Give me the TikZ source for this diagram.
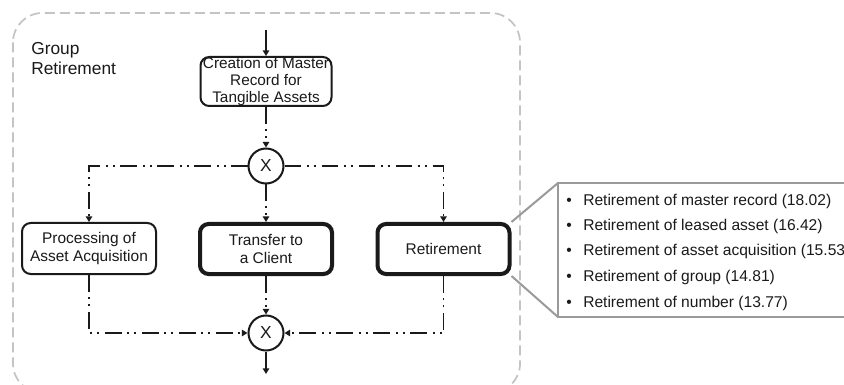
\documentclass[tikz,border=0pt]{standalone}
\usepackage{fontspec}
\setmainfont{Liberation Sans}
\usetikzlibrary{arrows.meta}
\definecolor{txtc}{HTML}{1A1A1A}
\definecolor{grpc}{HTML}{C4C4C4}
\definecolor{callc}{HTML}{9A9A9A}
\begin{document}
\begin{tikzpicture}[x=0.75pt,y=-0.75pt,
  task/.style={draw=txtc, text=txtc, rounded corners=6.5pt, line width=1.5pt,
    minimum width={134*0.75pt}, minimum height={51*0.75pt}, inner sep=0pt,
    align=center, font=\fontsize{11.6}{13.5}\selectfont},
  boldtask/.style={task, line width=3pt, minimum width={132*0.75pt}, minimum height={50*0.75pt}},
  gate/.style={draw=txtc, text=txtc, circle, line width=1.5pt, minimum size={35*0.75pt},
    inner sep=0pt, font=\fontsize{13}{15}\selectfont},
  flow/.style={draw=txtc, line width=1.4pt,
    dash pattern=on 12.5pt off 4pt on 1.5pt off 3.75pt on 1.5pt off 4.5pt},
  solidflow/.style={draw=txtc, line width=1.4pt},
  tip/.style={-{Triangle[width=4.8pt,length=4.2pt]}},
  item/.style={anchor=base west, inner sep=0pt, text=txtc, font=\fontsize{11.7}{13.5}\selectfont},
  callout/.style={draw=callc, line width=1.5pt}
]
\clip (0,0) rectangle (844,385);
\fill[white] (0,0) rectangle (844,385);
% group frame
\draw[grpc, line width=1.3pt, dash pattern=on 7.5pt off 3.75pt, rounded corners=22pt]
  (13,13) rectangle (520,393);
\node[anchor=west, inner sep=0pt, text=txtc, font=\fontsize{13}{15}\selectfont, align=left]
  (title) at (31,58.7) {Group\\Retirement};
% nodes
\node[task, minimum width={131*0.75pt}, minimum height={49*0.75pt},
  font=\fontsize{11.5}{13}\selectfont] (create) at (266,81.5)
  {Creation of Master\\Record for\\Tangible Assets};
\node[gate] (g1) at (266,166) {X};
\node[task] (proc) at (89,248.5) {Processing of\\Asset Acquisition};
\node[boldtask] (trans) at (266,249) {Transfer to\\a Client};
\node[boldtask] (ret) at (443.5,249) {Retirement};
\node[gate] (g2) at (266,333) {X};
\coordinate (in) at (266,30);
\coordinate (out) at (266,374);
% connectors
\draw[solidflow, tip] (in) -- (create.north);
\draw[flow, tip] (create.south) -- (g1.north);
\draw[flow, tip] (g1.south) -- (trans.north);
\draw[flow, tip] (g1.west) -| (proc.north);
\draw[flow, tip] (g1.east) -| (ret.north);
\draw[flow, tip] (proc.south) |- (g2.west);
\draw[flow, tip] (trans.south) -- (g2.north);
\draw[flow, tip] (ret.south) |- (g2.east);
\draw[solidflow, tip] (g2.south) -- (out);
% callout
\coordinate (c1) at (558,183);
\coordinate (c2) at (558,317);
\coordinate (cr) at (852,317);
\draw[callout] (ret.north east) -- (c1);
\draw[callout] (ret.south east) -- (c2);
\draw[callout] (c1) rectangle (cr);
\node[item] (l1) at (566,205) {\makebox[12.75pt][l]{•}Retirement of master record (18.02)};
\node[item] (l2) at (566,230.5) {\makebox[12.75pt][l]{•}Retirement of leased asset (16.42)};
\node[item] (l3) at (566,256) {\makebox[12.75pt][l]{•}Retirement of asset acquisition (15.53)};
\node[item] (l4) at (566,281.5) {\makebox[12.75pt][l]{•}Retirement of group (14.81)};
\node[item] (l5) at (566,307) {\makebox[12.75pt][l]{•}Retirement of number (13.77)};
\end{tikzpicture}
\end{document}
